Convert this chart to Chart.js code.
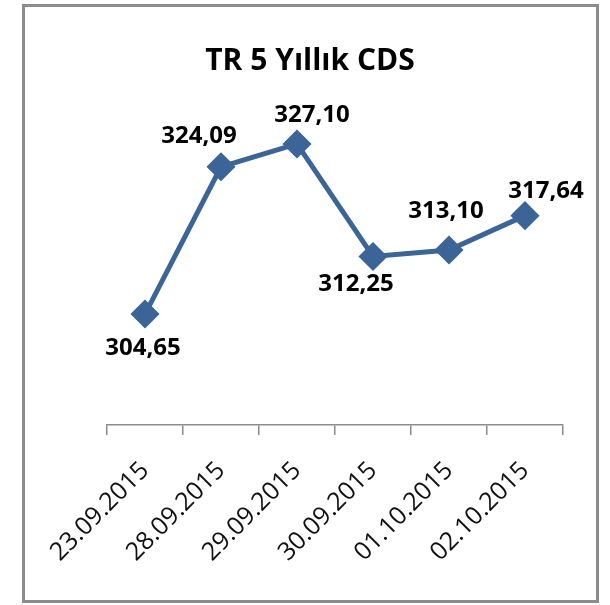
<!DOCTYPE html>
<html>
<head>
<meta charset="utf-8">
<script src="https://cdn.jsdelivr.net/npm/chart.js@4"></script>
<style>
  body { margin: 0; background: #fff; }
  #wrap { width: 610px; height: 605px; }
</style>
</head>
<body>
<div id="wrap"><canvas id="cdsChart" width="610" height="605"></canvas></div>
<script>
const chartTitle = 'TR 5 Yıllık CDS';
const dates = ['23.09.2015', '28.09.2015', '29.09.2015', '30.09.2015', '01.10.2015', '02.10.2015'];
const cdsValues = [304.65, 324.09, 327.10, 312.25, 313.10, 317.64];

const lineColor = '#3b6497';

// frame + title, drawn before the chart
const framePlugin = {
    id: 'frame',
    beforeDraw(chart) {
        const ctx = chart.ctx;
        ctx.save();
        ctx.fillStyle = '#fff';
        ctx.fillRect(0, 0, chart.width, chart.height);
        ctx.strokeStyle = '#8c8c8c';
        ctx.lineWidth = 3;
        ctx.strokeRect(23.5, 5.5, 574, 596);
        ctx.fillStyle = '#000';
        ctx.font = 'bold 30px "Open Sans"';
        ctx.textAlign = 'center';
        ctx.textBaseline = 'alphabetic';
        ctx.fillText(chartTitle, 310, 70);
        ctx.restore();
    }
};

// value labels next to each point
const valueLabels = {
    id: 'valueLabels',
    afterDatasetsDraw(chart, args, opts) {
        const ctx = chart.ctx;
        const meta = chart.getDatasetMeta(0);
        ctx.save();
        ctx.font = 'bold 24px "Open Sans"';
        ctx.fillStyle = '#000';
        ctx.textAlign = 'center';
        ctx.textBaseline = 'middle';
        meta.data.forEach((pt, i) => {
            const off = opts.offsets[i] || [0, -30];
            const txt = cdsValues[i].toFixed(2).replace('.', ',');
            ctx.fillText(txt, pt.x + off[0], pt.y + off[1]);
        });
        ctx.restore();
    }
};

new Chart(document.getElementById('cdsChart'), {
    type: 'line',
    data: {
        labels: dates,
        datasets: [{
            data: cdsValues,
            borderColor: lineColor,
            backgroundColor: lineColor,
            borderWidth: 5,
            pointStyle: 'rectRot',
            pointRadius: 11,
            pointHoverRadius: 11,
            pointBackgroundColor: lineColor,
            pointBorderColor: lineColor,
            tension: 0
        }]
    },
    options: {
        responsive: false,
        animation: false,
        layout: { padding: { top: 122, left: 107, right: 47, bottom: 0 } },
        plugins: {
            legend: { display: false },
            tooltip: { enabled: false },
            title: { display: false },
            valueLabels: {
                offsets: [[-2, 34], [-22, -31], [15, -29], [-17, 28], [-3, -39], [21, -24]]
            }
        },
        scales: {
            x: {
                offset: true,
                afterFit(scale) { scale.height = 180; },
                grid: {
                    offset: true,
                    drawOnChartArea: false,
                    drawTicks: true,
                    tickLength: 10,
                    color: '#8c8c8c',
                    lineWidth: 1.5
                },
                border: { display: true, color: '#8c8c8c', width: 1.5 },
                ticks: {
                    autoSkip: false,
                    minRotation: 45,
                    maxRotation: 45,
                    padding: 21,
                    color: '#111',
                    font: { family: '"Open Sans"', size: 25 }
                }
            },
            y: {
                display: false,
                min: 290,
                max: 330
            }
        }
    },
    plugins: [framePlugin, valueLabels]
});
</script>
</body>
</html>
